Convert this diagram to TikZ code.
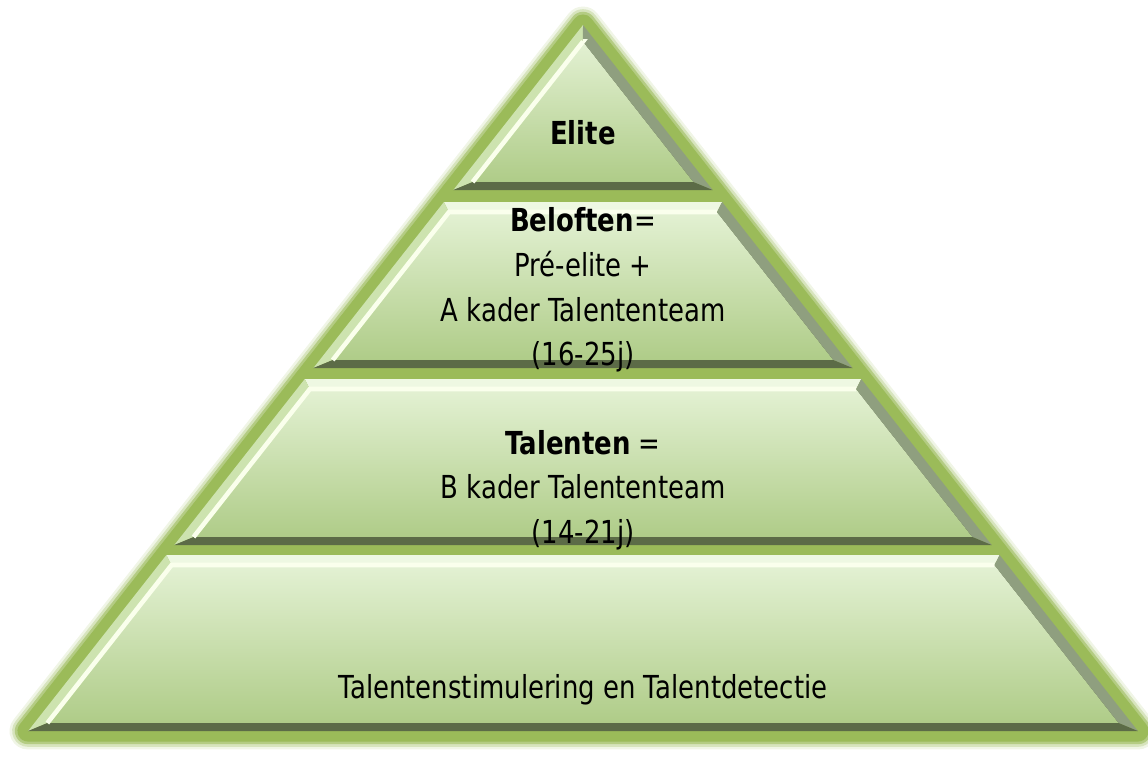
\documentclass[tikz,border=0pt]{standalone}
\usepackage{fontspec}
\setmainfont[FakeStretch=0.82]{DejaVu Sans}
\usetikzlibrary{positioning}

\definecolor{glowgreen}{HTML}{9BBB59}
\definecolor{filltop}{HTML}{E3F1D3}
\definecolor{fillbot}{HTML}{AFCC88}
\definecolor{facetop}{HTML}{EEF8E2}
\definecolor{faceleft}{HTML}{CDE3AF}
\definecolor{faceright}{HTML}{8F9F7F}
\definecolor{facebot}{HTML}{5C6B47}
\definecolor{shine}{HTML}{FAFFEC}

\begin{document}
\begin{tikzpicture}[x=0.01cm,y=-0.01cm,
  layerfill/.style={top color=filltop,bottom color=fillbot},
  tiertext/.style={align=center,inner sep=0pt,font=\fontsize{9}{12.7}\selectfont}]
\useasboundingbox (0,0) rectangle (1148,756);
% Outer glow
\coordinate (apex) at (583,25);
\coordinate (left) at (28,731);
\coordinate (right) at (1138,731);
\draw[glowgreen!15,line width=10.5pt,line join=round] (apex) -- (left) -- (right) -- cycle;
\draw[glowgreen!40,line width=9pt,line join=round] (apex) -- (left) -- (right) -- cycle;
\draw[glowgreen!75,line width=7.5pt,line join=round] (apex) -- (left) -- (right) -- cycle;
\filldraw[glowgreen,line width=6pt,line join=round] (apex) -- (left) -- (right) -- cycle;
% Layers with bevel
\foreach \ty/\by in {25/190,202/368,379/545,555/731}{
  \pgfmathsetmacro{\iy}{max(\ty+10,41.5)}
  \pgfmathsetmacro{\jy}{\by-8}
  \pgfmathsetmacro{\tl}{583-0.786*(\ty-25)}
  \pgfmathsetmacro{\tr}{583+0.786*(\ty-25)}
  \pgfmathsetmacro{\bl}{583-0.786*(\by-25)}
  \pgfmathsetmacro{\br}{583+0.786*(\by-25)}
  \pgfmathsetmacro{\itl}{583-0.786*(\iy-25)+13}
  \pgfmathsetmacro{\itr}{583+0.786*(\iy-25)-13}
  \pgfmathsetmacro{\ibl}{583-0.786*(\jy-25)+13}
  \pgfmathsetmacro{\ibr}{583+0.786*(\jy-25)-13}
  \fill[layerfill] (\itl,\iy) -- (\itr,\iy) -- (\ibr,\jy) -- (\ibl,\jy) -- cycle;
  \fill[facetop] (\tl,\ty) -- (\tr,\ty) -- (\itr,\iy) -- (\itl,\iy) -- cycle;
  \fill[faceleft] (\tl,\ty) -- (\itl,\iy) -- (\ibl,\jy) -- (\bl,\by) -- cycle;
  \fill[faceright] (\tr,\ty) -- (\br,\by) -- (\ibr,\jy) -- (\itr,\iy) -- cycle;
  \fill[facebot] (\bl,\by) -- (\br,\by) -- (\ibr,\jy) -- (\ibl,\jy) -- cycle;
  \draw[shine,line width=1.3pt] (\ibl,\jy) -- (\itl,\iy) -- (\itr,\iy);
}
% Texts
\node[tiertext] (elite) at (583,133) {\textbf{Elite}};
\node[tiertext] (beloften) at (583,290) {\textbf{Beloften}=\\Pré-elite +\\A kader Talententeam\\(16-25j)};
\node[tiertext] (talenten) at (583,490) {\textbf{Talenten} =\\B kader Talententeam\\(14-21j)};
\node[tiertext] (basis) at (583,690) {Talentenstimulering en Talentdetectie};
\end{tikzpicture}
\end{document}
